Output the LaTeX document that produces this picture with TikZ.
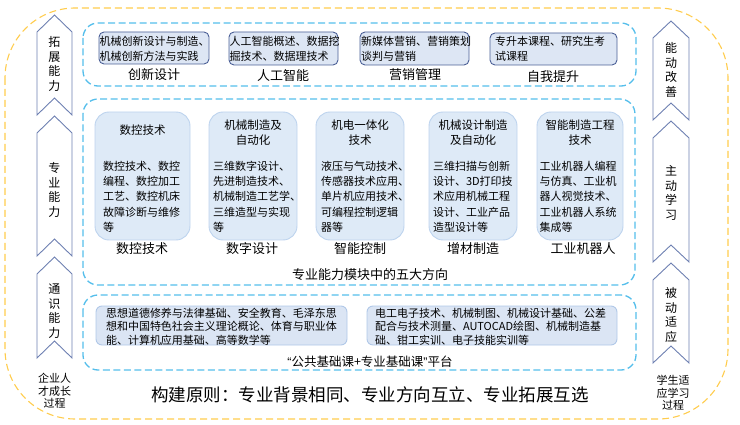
\documentclass[tikz,border=0pt]{standalone}
\usepackage{fontspec}
\setmainfont{Noto Sans CJK SC}
\newfontfamily\quotefont{Liberation Sans}
\definecolor{yel}{RGB}{255,204,77}
\definecolor{bl}{RGB}{85,190,235}
\definecolor{tbd}{RGB}{75,95,150}
\definecolor{tbf}{RGB}{221,230,244}
\definecolor{mbd}{RGB}{189,211,238}
\definecolor{mbf}{RGB}{222,234,247}
\definecolor{bbd}{RGB}{176,200,232}
\definecolor{bbf}{RGB}{219,229,244}
\definecolor{chv}{RGB}{110,128,178}
\begin{document}
\begin{tikzpicture}[x=1pt,y=-1pt,
  every node/.style={inner sep=0pt, outer sep=0pt},
  ydash/.style={draw=yel, dash pattern=on 7pt off 4pt, line width=1.1pt, rounded corners=70pt},
  bdash/.style={draw=bl, dash pattern=on 7pt off 3.5pt, line width=1.3pt, rounded corners=15pt},
  topbox/.style={draw=tbd, fill=tbf, line width=0.9pt, rounded corners=5pt},
  midbox/.style={draw=mbd, fill=mbf, line width=0.9pt, rounded corners=14pt},
  botbox/.style={draw=bbd, fill=bbf, line width=0.9pt, rounded corners=6pt},
  chev/.style={draw=chv, fill=white, line width=0.9pt},
  txt/.style={font=\fontsize{11}{15}\selectfont, align=left},
  btxt/.style={font=\fontsize{11}{13.5}\selectfont, align=left},
  body/.style={font=\fontsize{11}{15.3}\selectfont, align=left, anchor=north west},
  ttl/.style={font=\fontsize{11.5}{15}\selectfont, align=center},
  lbl/.style={font=\fontsize{13}{15}\selectfont},
  vtxt/.style={font=\fontsize{12}{14.5}\selectfont, align=center},
  stxt/.style={font=\fontsize{11}{12.5}\selectfont, align=center},
]
\useasboundingbox (0,0) rectangle (740,425);
% outer frame
\draw[ydash] (5,8) rectangle (728,419);
% left chevrons
\draw[chev] (37,32) -- (54.5,15) -- (72,32) -- (72,115) -- (54.5,98) -- (37,115) -- cycle;
\draw[chev] (37,133) -- (54.5,116) -- (72,133) -- (72,256) -- (54.5,239) -- (37,256) -- cycle;
\draw[chev] (37,274) -- (54.5,257) -- (72,274) -- (72,358) -- (54.5,341) -- (37,358) -- cycle;
\node[vtxt] (va1) at (54.5,64) {拓\\展\\能\\力};
\node[vtxt] (va2) at (54.5,190) {专\\业\\能\\力};
\node[vtxt] (va3) at (54.5,311) {通\\识\\能\\力};
\node[stxt] (vl) at (54.5,391) {企业人\\才成长\\过程};
% right chevrons
\draw[chev] (653,38) -- (671,21) -- (689,38) -- (689,120) -- (671,103) -- (653,120) -- cycle;
\draw[chev] (653,138) -- (671,121) -- (689,138) -- (689,262) -- (671,245) -- (653,262) -- cycle;
\draw[chev] (653,280) -- (671,263) -- (689,280) -- (689,363) -- (671,346) -- (653,363) -- cycle;
\node[vtxt] (vb1) at (671,70) {能\\动\\改\\善};
\node[vtxt] (vb2) at (671,193) {主\\动\\学\\习};
\node[vtxt] (vb3) at (671,315) {被\\动\\适\\应};
\node[stxt] (vr) at (673,393) {学生适\\应学习\\过程};
% top group
\draw[bdash] (83,23) rectangle (636,86);
\draw[topbox] (99,32) rectangle (209,64);
\draw[topbox] (229,32) rectangle (338,65);
\draw[topbox] (360,32) rectangle (469,65);
\draw[topbox] (490,33) rectangle (617,65);
\node[txt, anchor=west] (t1) at (99.5,48.5) {机械创新设计与制造、\\机械创新方法与实践};
\node[txt, anchor=west] (t2) at (229.5,49) {人工智能概述、数据挖\\掘技术、数据理技术};
\node[txt, anchor=west] (t3) at (361,49) {新媒体营销、营销策划\\谈判与营销};
\node[txt, anchor=west] (t4) at (495,49) {专升本课程、研究生考\\试课程};
\node[lbl] (l1) at (154,75) {创新设计};
\node[lbl] (l2) at (283,76) {人工智能};
\node[lbl] (l3) at (415,75) {营销管理};
\node[lbl] (l4) at (553,77) {自我提升};
% middle group
\draw[bdash] (83,99) rectangle (635,285);
\draw[midbox] (95,112) rectangle (190,240);
\draw[midbox] (209,112) rectangle (297,240);
\draw[midbox] (316,112) rectangle (404,240);
\draw[midbox] (429,112) rectangle (517,240);
\draw[midbox] (537,112) rectangle (623,240);
\node[ttl] (m1t) at (142.5,130) {数控技术};
\node[ttl] (m2t) at (253,132.5) {机械制造及\\自动化};
\node[ttl] (m3t) at (360,132.5) {机电一体化\\技术};
\node[ttl] (m4t) at (473,132.5) {机械设计制造\\及自动化};
\node[ttl] (m5t) at (580,132.5) {智能制造工程\\技术};
\node[body] (m1b) at (103,161) {数控技术、数控\\编程、数控加工\\工艺、数控机床\\故障诊断与维修\\等};
\node[body] (m2b) at (213,161) {三维数字设计、\\先进制造技术、\\机械制造工艺学、\\三维造型与实现\\等};
\node[body] (m3b) at (321,161) {液压与气动技术、\\传感器技术应用、\\单片机应用技术、\\可编程控制逻辑\\器等};
\node[body] (m4b) at (433,161) {三维扫描与创新\\设计、3D打印技\\术应用机械工程\\设计、工业产品\\造型设计等};
\node[body] (m5b) at (539.5,161) {工业机器人编程\\与仿真、工业机\\器人视觉技术、\\工业机器人系统\\集成等};
\node[lbl] (ml1) at (142,249) {数控技术};
\node[lbl] (ml2) at (252,249) {数字设计};
\node[lbl] (ml3) at (360,249) {智能控制};
\node[lbl] (ml4) at (473,249) {增材制造};
\node[lbl] (ml5) at (583,249) {工业机器人};
\node[lbl] (mcap) at (370,275) {专业能力模块中的五大方向};
% bottom group
\draw[bdash] (83,295) rectangle (636,370);
\draw[botbox] (96,306) rectangle (347,345);
\draw[botbox] (367,306) rectangle (617,345);
\node[btxt, anchor=west] (b1) at (106,326.5) {思想道德修养与法律基础、安全教育、毛泽东思\\想和中国特色社会主义理论概论、体育与职业体\\能、计算机应用基础、高等数学等};
\node[btxt, anchor=west] (b2) at (375,326.5) {电工电子技术、机械制图、机械设计基础、公差\\配合与技术测量、AUTOCAD绘图、机械制造基\\础、钳工实训、电子技能实训等};
\node[font=\fontsize{12.5}{15}\selectfont] (bcap) at (370,362) {{\quotefont “}公共基础课+专业基础课{\quotefont ”}平台};
% principle
\node[font=\fontsize{17.5}{20}\selectfont] (prin) at (370,395) {构建原则：专业背景相同、专业方向互立、专业拓展互选};
\end{tikzpicture}
\end{document}
